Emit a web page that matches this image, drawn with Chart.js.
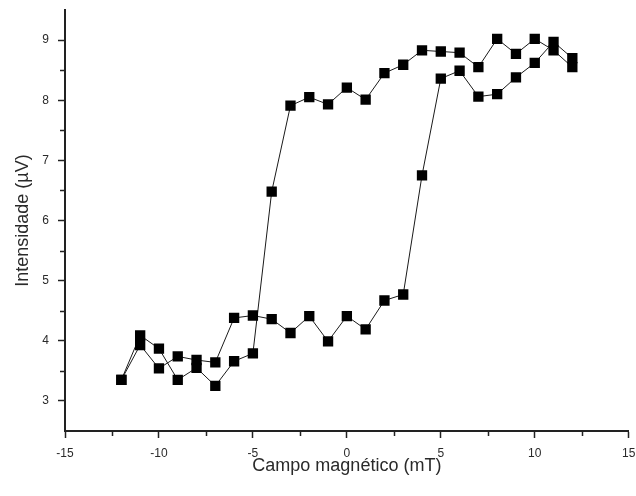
<!DOCTYPE html>
<html>
<head>
<meta charset="utf-8">
<script src="https://cdn.jsdelivr.net/npm/chart.js@4.4.1/dist/chart.umd.min.js"></script>
<style>
  html, body { margin: 0; padding: 0; background: #fff; }
  #wrap { width: 636px; height: 496px; }
</style>
</head>
<body>
<div id="wrap"><canvas id="loop-chart" width="636" height="496"></canvas></div>
<script>
// field sweep up (-12 -> 12) and back down (12 -> -12), mT
const fieldUp = [-12, -11, -10, -9, -8, -7, -6, -5, -4, -3, -2, -1, 0, 1, 2, 3, 4, 5, 6, 7, 8, 9, 10, 11, 12];
const intensityUp = [3.35, 3.93, 3.54, 3.74, 3.68, 3.64, 4.38, 4.42, 4.36, 4.13, 4.41, 3.99, 4.41, 4.19, 4.67, 4.77, 6.75, 8.36, 8.49, 8.06, 8.10, 8.38, 8.62, 8.97, 8.70];

const fieldDown = [12, 11, 10, 9, 8, 7, 6, 5, 4, 3, 2, 1, 0, -1, -2, -3, -4, -5, -6, -7, -8, -9, -10, -11, -12];
const intensityDown = [8.55, 8.83, 9.02, 8.77, 9.02, 8.55, 8.79, 8.81, 8.83, 8.59, 8.45, 8.01, 8.21, 7.93, 8.05, 7.91, 6.48, 3.79, 3.66, 3.25, 3.55, 3.35, 3.87, 4.09, 3.35];

// tick positions
const xTickValues = [-15, -10, -5, 0, 5, 10, 15];
const yTickValues = [3, 4, 5, 6, 7, 8, 9];
const xMinorTicks = [-12.5, -7.5, -2.5, 2.5, 7.5, 12.5];
const yMinorTicks = [3.5, 4.5, 5.5, 6.5, 7.5, 8.5];

const axisColor = '#222';
const textColor = '#2a2a2a';
const fontFamily = 'Liberation Sans, Arial, sans-serif';

function toPoints(xs, ys) {
    return xs.map((x, i) => ({ x: x, y: ys[i] }));
}

const minorTicks = {
    id: 'minorTicks',
    afterDraw(chart) {
        const { ctx, scales: { x, y } } = chart;
        ctx.save();
        ctx.strokeStyle = axisColor;
        ctx.lineWidth = 1.5;
        ctx.beginPath();
        xMinorTicks.forEach(v => {
            const px = Math.round(x.getPixelForValue(v)) + 0.5;
            ctx.moveTo(px, x.top);
            ctx.lineTo(px, x.top + 5);
        });
        yMinorTicks.forEach(v => {
            const py = Math.round(y.getPixelForValue(v)) + 0.5;
            ctx.moveTo(y.right, py);
            ctx.lineTo(y.right - 5, py);
        });
        ctx.stroke();
        ctx.restore();
    }
};

const lineStyle = {
    showLine: true,
    borderColor: '#1a1a1a',
    borderWidth: 1,
    pointStyle: 'rect',
    pointRadius: 7.3,
    pointHoverRadius: 7.3,
    pointBackgroundColor: '#000',
    pointBorderWidth: 0,
    tension: 0
};

const loopChart = new Chart(document.getElementById('loop-chart'), {
    type: 'scatter',
    data: {
        datasets: [
            Object.assign({ label: 'up', data: toPoints(fieldUp, intensityUp) }, lineStyle),
            Object.assign({ label: 'down', data: toPoints(fieldDown, intensityDown) }, lineStyle)
        ]
    },
    options: {
        responsive: false,
        animation: false,
        layout: { padding: { top: 10, right: 6, left: 0, bottom: 0 } },
        plugins: {
            legend: { display: false },
            tooltip: { enabled: false }
        },
        scales: {
            x: {
                type: 'linear',
                min: -15,
                max: 15,
                afterBuildTicks: scale => { scale.ticks = xTickValues.map(v => ({ value: v })); },
                afterFit: scale => {
                    scale.height = 65;
                    scale.paddingLeft = 0;
                    scale.paddingRight = 0;
                },
                border: { display: true, color: axisColor, width: 2 },
                grid: { drawOnChartArea: false, drawTicks: true, tickLength: 7, tickColor: axisColor, tickWidth: 1.5 },
                ticks: {
                    padding: 8,
                    color: textColor,
                    font: { family: fontFamily, size: 12 },
                    maxRotation: 0
                },
                title: {
                    display: true,
                    text: 'Campo magnético (mT)',
                    color: textColor,
                    font: { family: fontFamily, size: 18 },
                    padding: { top: 0, bottom: 19 }
                }
            },
            y: {
                type: 'linear',
                min: 2.5,
                max: 9.5,
                afterBuildTicks: scale => { scale.ticks = yTickValues.map(v => ({ value: v })); },
                afterFit: scale => {
                    scale.width = 65;
                    scale.paddingTop = 0;
                    scale.paddingBottom = 0;
                },
                border: { display: true, color: axisColor, width: 2 },
                grid: { drawOnChartArea: false, drawTicks: true, tickLength: 7, tickColor: axisColor, tickWidth: 1.5 },
                ticks: {
                    padding: 9,
                    color: textColor,
                    font: { family: fontFamily, size: 12 }
                },
                title: {
                    display: true,
                    text: 'Intensidade (µV)',
                    color: textColor,
                    font: { family: fontFamily, size: 18 },
                    padding: { top: 12, bottom: 0 }
                }
            }
        }
    },
    plugins: [minorTicks]
});
</script>
</body>
</html>
